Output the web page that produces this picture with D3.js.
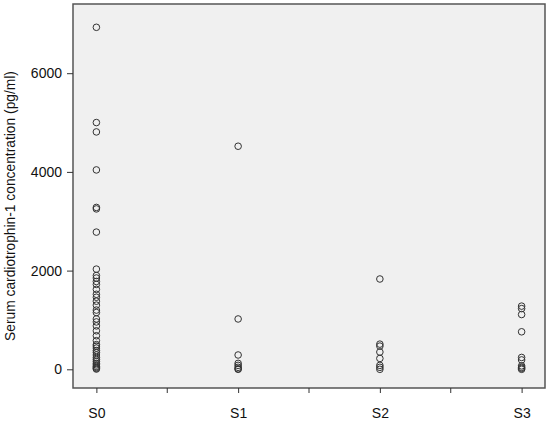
<!DOCTYPE html>
<html><head><meta charset="utf-8">
<script src="https://cdn.jsdelivr.net/npm/d3@7"></script>
<style>body{margin:0;background:#fff;} svg{display:block;}</style>
</head><body>
<svg id="c" width="550" height="423"></svg>
<script>
const categories = ["S0","S1","S2","S3"];
const s0 = [6930,5000,4810,4040,3280,3250,2780,2030,1900,1850,1780,1720,1620,1520,1460,1380,1300,1200,1150,1020,960,880,780,680,580,500,470,430,380,340,290,240,200,160,120,90,60,40,20,5];
const s1 = [4520,1020,290,120,80,40,10,0];
const s2 = [1830,510,470,350,220,80,40,0];
const s3 = [1280,1230,1110,760,240,190,70,40,20,0];
const seriesValues = [s0,s1,s2,s3];
const yTicks = [0,2000,4000,6000];
const yTitle = "Serum cardiotrophin-1 concentration (pg/ml)";

const svg = d3.select("#c");
const L=73, R=545, T=4, B=388;
const x = d3.scalePoint().domain(categories).range([L,R]).padding(0.165);
const y = d3.scaleLinear().domain([0,2000]).range([369.3,270.6]);
const font = "Arial, Liberation Sans, sans-serif";

svg.append("rect").attr("x",L).attr("y",T).attr("width",R-L).attr("height",B-T)
  .attr("fill","#f0f0f0").attr("stroke","#555").attr("stroke-width",1.5);

// y axis
const ya = svg.append("g").attr("transform",`translate(${L},0)`)
  .call(d3.axisLeft(y).tickValues(yTicks).tickSize(6).tickPadding(5).tickFormat(d3.format("d")));
ya.select(".domain").remove();
ya.selectAll("line").attr("stroke","#333");
ya.selectAll("text").attr("font-family",font).attr("font-size",14).attr("fill","#111");

// x axis
const xa = svg.append("g").attr("transform",`translate(0,${B})`)
  .call(d3.axisBottom(x).tickSize(5).tickPadding(15));
xa.select(".domain").remove();
xa.selectAll("line").attr("stroke","#333");
xa.selectAll("text").attr("font-family",font).attr("font-size",14).attr("fill","#111");
// midpoint ticks
const mids = categories.slice(0,-1).map((c,i)=>(x(c)+x(categories[i+1]))/2);
svg.append("g").selectAll("line").data(mids).join("line")
  .attr("x1",d=>d).attr("x2",d=>d).attr("y1",B).attr("y2",B+5).attr("stroke","#333");

svg.append("text").attr("transform",`translate(15,${(T+B)/2+10}) rotate(-90)`)
  .attr("text-anchor","middle").attr("font-family",font)
  .attr("font-size",13.8).attr("fill","#111").text(yTitle);

const pts = [];
seriesValues.forEach((vals,i)=>vals.forEach(v=>pts.push({c:categories[i],v})));
svg.append("g").selectAll("circle").data(pts).join("circle")
  .attr("cx",d=>x(d.c)).attr("cy",d=>y(d.v)).attr("r",3.3)
  .attr("fill","none").attr("stroke","#333").attr("stroke-width",1);
</script>
</body></html>
